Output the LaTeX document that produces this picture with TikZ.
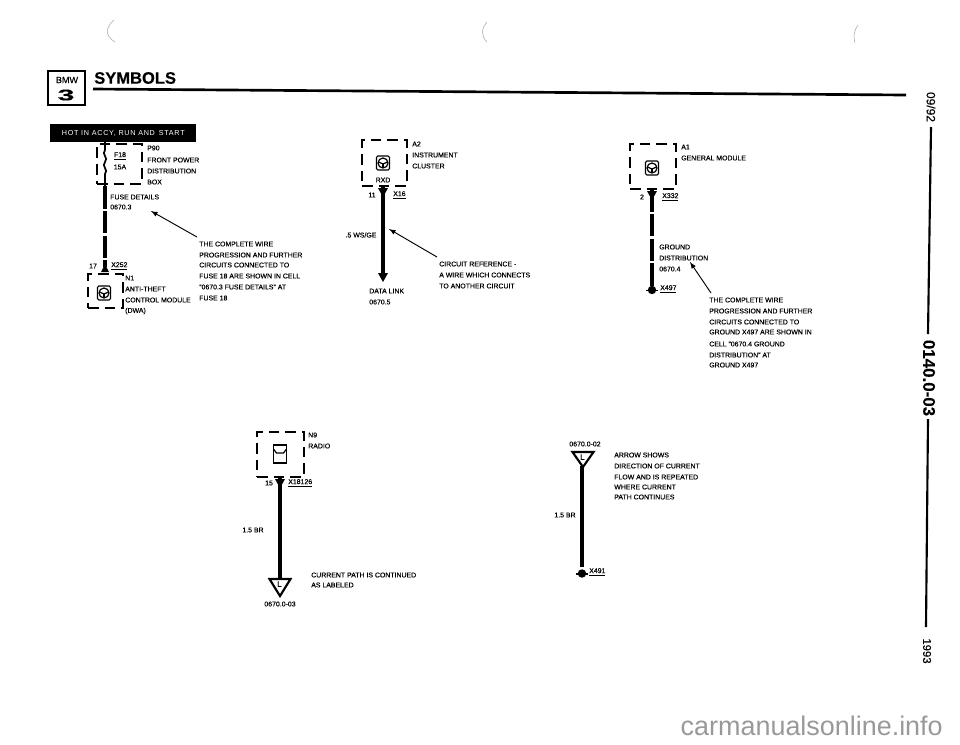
\documentclass[tikz,border=0pt]{standalone}
\usepackage{graphicx}
\usepackage{fontspec}
\setmainfont[FakeBold=0.25]{Liberation Sans}
\newfontfamily\bannerfont[LetterSpace=10]{Liberation Sans}
\newfontfamily\plainfont{Liberation Sans}
\usetikzlibrary{arrows}

\tikzset{
  lbl/.style={anchor=west,inner sep=0pt,font=\fontsize{5.2}{6}\selectfont},
  ctr/.style={inner sep=0pt,font=\fontsize{5.2}{6}\selectfont},
  modbox/.style={draw,line width=1.9pt,dash pattern=on 8pt off 4.5pt,inner sep=0pt},
  wire/.style={line width=3.3pt},
  brokenwire/.style={line width=3.6pt,dash pattern=on 17pt off 1.6pt},
  ptr/.style={-latex,line width=0.7pt},
  tri/.style={line width=1.6pt,line join=miter},
  stray/.style={line width=0.4pt,black!35},
  sideline/.style={line width=1.6pt},
}
\newcommand{\wheel}[1]{
  \draw[line width=0.8pt,rounded corners=1pt] (#1) ++(-6.5,-7) rectangle ++(13,14);
  \draw[line width=0.9pt] (#1) circle (5);
  \draw[line width=0.9pt] (#1) ++(-4.5,-1) -- ++(4.5,2) -- ++(4.5,-2);
  \draw[line width=0.9pt] (#1) ++(0,1) -- ++(0,4);
}
\newcommand{\gnd}[1]{
  \fill (#1) circle (4.2);
  \draw[line width=0.9pt] (#1) ++(-6,0.5) -- ++(12,0);
}

\begin{document}
\begin{tikzpicture}[x=0.75pt,y=0.75pt,yscale=-1,xscale=1]
\useasboundingbox (0,0) rectangle (960,744);

% stray marks
\draw[stray] (114,20) .. controls (105,28) and (105,36) .. (115,42);
\draw[stray] (487,22) .. controls (481,29) and (481,36) .. (487,42);
\draw[stray] (858,25) .. controls (854,30) and (853,37) .. (855,43);

% Header
\draw[line width=2pt] (48,71) rectangle (85,105);
\node[inner sep=0pt,font=\fontsize{6.8}{8}\selectfont] (bmw) at (67,80) {BMW};
\node[inner sep=0pt,font=\fontsize{11.5}{12}\bfseries\selectfont] (three) at (66,95) {\scalebox{2}[1]{3}};
\node[anchor=west,inner sep=0pt,font=\fontsize{12.4}{14}\bfseries\selectfont] (title) at (94,78) {SYMBOLS};
\coordinate (ruleL) at (93,89);
\coordinate (ruleR) at (906,95);
\draw[line width=2pt] (ruleL) -- (ruleR);

% Banner
\node[anchor=west,fill=black,text=white,minimum width=109.5pt,minimum height=13.5pt,inner sep=0pt,font=\fontsize{5.4}{6}\bannerfont] (banner) at (50,133) {HOT IN ACCY, RUN AND\, START};

% Fuse box and wire
\node[modbox,minimum width=33.75pt,minimum height=30pt] (p90) at (119.5,164) {};
\coordinate (fuseTop) at (105,142);
\coordinate (fuseBot) at (105,186);
\coordinate (wireEnd) at (105,267);
\draw[line width=1.3pt] (fuseTop) -- (105,150) .. controls (101,154) and (109,158) .. (105,162) .. controls (101,166) and (109,170) .. (105,174) -- (fuseBot);
\draw[brokenwire] (fuseBot) -- (wireEnd);
\node[ctr] (f18) at (120,156) {\underline{F18}};
\node[ctr] (a15) at (120,167) {15A};
\node[lbl] (t1) at (147,148) {P90};
\node[lbl] (t2) at (147,160) {FRONT POWER};
\node[lbl] (t3) at (147,171) {DISTRIBUTION};
\node[lbl] (t4) at (147,182) {BOX};
\node[lbl] (t5) at (110,197) {FUSE DETAILS};
\node[lbl] (t6) at (110,207) {0670.3};
\node[lbl] (t7) at (199,244) {THE COMPLETE WIRE};
\node[lbl] (t8) at (199,255) {PROGRESSION AND FURTHER};
\node[lbl] (t9) at (199,265) {CIRCUITS CONNECTED TO};
\node[lbl] (t10) at (199,276) {FUSE 18 ARE SHOWN IN CELL};
\node[lbl] (t11) at (199,287) {"0670.3 FUSE DETAILS" AT};
\node[lbl] (t12) at (199,298) {FUSE 18};
\coordinate (arrA) at (197,237);
\coordinate (arrAt) at (151,211);
\draw[ptr] (arrA) -- (arrAt);
\node[ctr] (n17) at (93,266) {17};
\node[lbl] (x252) at (111,266) {\underline{X252}};
\fill (105,264) -- (109,272) -- (101,272) -- cycle;
\node[modbox,minimum width=26.25pt,minimum height=25.5pt] (n1) at (105.5,291) {};
\wheel{104,293}
\node[lbl] (t13) at (125,278) {N1};
\node[lbl] (t14) at (125,289) {ANTI-THEFT};
\node[lbl] (t15) at (125,300) {CONTROL MODULE};
\node[lbl] (t16) at (125,311) {(DWA)};

% Instrument cluster
\node[modbox,minimum width=33.75pt,minimum height=34.5pt] (a2) at (384.5,163) {};
\wheel{383,163}
\node[ctr] (rxd) at (383,180) {RXD};
\node[lbl] (t17) at (412,144) {A2};
\node[lbl] (t18) at (412,155) {INSTRUMENT};
\node[lbl] (t19) at (412,166) {CLUSTER};
\node[ctr] (n11) at (372,195) {11};
\node[lbl] (x16) at (393,195) {\underline{X16}};
\coordinate (a2Top) at (383,186);
\coordinate (a2Bot) at (383,274);
\draw[wire] (a2Top) -- (a2Bot);
\fill (378,188) -- (388,188) -- (383,197) -- cycle;
\fill (378,273) -- (388,273) -- (383,282) -- cycle;
\node[ctr] (ws) at (361,235) {.5 WS/GE};
\coordinate (arrB) at (437,257);
\coordinate (arrBt) at (389,229);
\draw[ptr] (arrB) -- (arrBt);
\node[lbl] (t20) at (439,264) {CIRCUIT REFERENCE -};
\node[lbl] (t21) at (439,275) {A WIRE WHICH CONNECTS};
\node[lbl] (t22) at (439,286) {TO ANOTHER CIRCUIT};
\node[lbl] (t23) at (369,291) {DATA LINK};
\node[lbl] (t24) at (369,302) {0670.5};

% General module
\node[modbox,minimum width=34.5pt,minimum height=33.75pt] (a1) at (653,166.5) {};
\wheel{652,168}
\node[lbl] (t25) at (681,147) {A1};
\node[lbl] (t26) at (681,158) {GENERAL MODULE};
\node[ctr] (n2) at (642,197) {2};
\node[lbl] (x332) at (662,197) {\underline{X332}};
\fill (647,191) -- (657,191) -- (652,200) -- cycle;
\coordinate (a1Top) at (652,189);
\coordinate (a1Bot) at (652,287);
\draw[brokenwire] (a1Top) -- (a1Bot);
\gnd{652,290}
\node[lbl] (x497) at (660,289) {\underline{X497}};
\node[lbl] (t27) at (659,247) {GROUND};
\node[lbl] (t28) at (659,258) {DISTRIBUTION};
\node[lbl] (t29) at (659,269) {0670.4};
\coordinate (arrC) at (711,293);
\coordinate (arrCt) at (690,262);
\draw[ptr] (arrC) -- (arrCt);
\node[lbl] (t30) at (709,300) {THE COMPLETE WIRE};
\node[lbl] (t31) at (709,311) {PROGRESSION AND FURTHER};
\node[lbl] (t32) at (709,322) {CIRCUITS CONNECTED TO};
\node[lbl] (t33) at (709,332) {GROUND X497 ARE SHOWN IN};
\node[lbl] (t34) at (709,344) {CELL "0670.4 GROUND};
\node[lbl] (t35) at (709,355) {DISTRIBUTION" AT};
\node[lbl] (t36) at (709,365) {GROUND X497};

% Radio
\node[modbox,minimum width=35.25pt,minimum height=33.75pt] (n9) at (280.5,454.5) {};
\draw[line width=0.9pt] (273.5,445) rectangle (286.5,463);
\draw[line width=0.9pt] (273.5,449) -- (276.5,453) -- (283.5,453) -- (286.5,449);
\node[lbl] (t37) at (308,435) {N9};
\node[lbl] (t38) at (308,446) {RADIO};
\node[ctr] (n15) at (269,483) {15};
\node[lbl] (x18) at (288,483) {\underline{X18126}};
\fill (275,479) -- (285,479) -- (280,488) -- cycle;
\coordinate (n9Top) at (280,477);
\coordinate (n9Bot) at (280,579);
\draw[wire] (n9Top) -- (n9Bot);
\draw[tri] (269.5,579) -- (290.5,579) -- (280,596) -- cycle;
\node[inner sep=0pt,font=\fontsize{6}{6}\selectfont] (ltop) at (279.5,584) {L};
\node[ctr] (t39) at (280,604) {0670.0-03};
\node[ctr] (t40) at (253,530) {1.5 BR};
\node[lbl] (t41) at (311,575) {CURRENT PATH IS CONTINUED};
\node[lbl] (t42) at (311,585) {AS LABELED};

% Current flow
\node[ctr] (t43) at (585,444) {0670.0-02};
\draw[tri] (572.5,452) -- (593.5,452) -- (583,467) -- cycle;
\node[inner sep=0pt,font=\fontsize{6}{6}\selectfont] (lbot) at (582.5,457) {L};
\coordinate (lineTop) at (582,466);
\coordinate (lineBot) at (582,567);
\draw[wire] (lineTop) -- (lineBot);
\gnd{582,573.5}
\node[lbl] (x491) at (589,572) {\underline{X491}};
\node[ctr] (t44) at (565,515) {1.5 BR};
\node[lbl] (t45) at (614,455) {ARROW SHOWS};
\node[lbl] (t46) at (614,466) {DIRECTION OF CURRENT};
\node[lbl] (t47) at (614,477) {FLOW AND IS REPEATED};
\node[lbl] (t48) at (614,487) {WHERE CURRENT};
\node[lbl] (t49) at (614,497) {PATH CONTINUES};

% Side
\node[rotate=-90,inner sep=0pt,font=\fontsize{9}{10}\selectfont] (date) at (931,107) {09/92};
\node[rotate=-90,inner sep=0pt,font=\fontsize{12.7}{13}\bfseries\selectfont] (page) at (929,378) {0140.0-03};
\node[rotate=-90,inner sep=0pt,font=\fontsize{8.5}{9}\selectfont] (year) at (927,651) {1993};
\coordinate (sideA) at (931,127);
\coordinate (sideB) at (928,334);
\coordinate (sideC) at (928,419);
\coordinate (sideD) at (926,627);
\draw[sideline] (sideA) -- (sideB);
\draw[sideline] (sideC) -- (sideD);

% Watermark
\node[anchor=base east,inner sep=0pt,text=black!40,font=\fontsize{20.2}{22}\plainfont] (site) at (943,735) {carmanualsonline.info};

\end{tikzpicture}
\end{document}
